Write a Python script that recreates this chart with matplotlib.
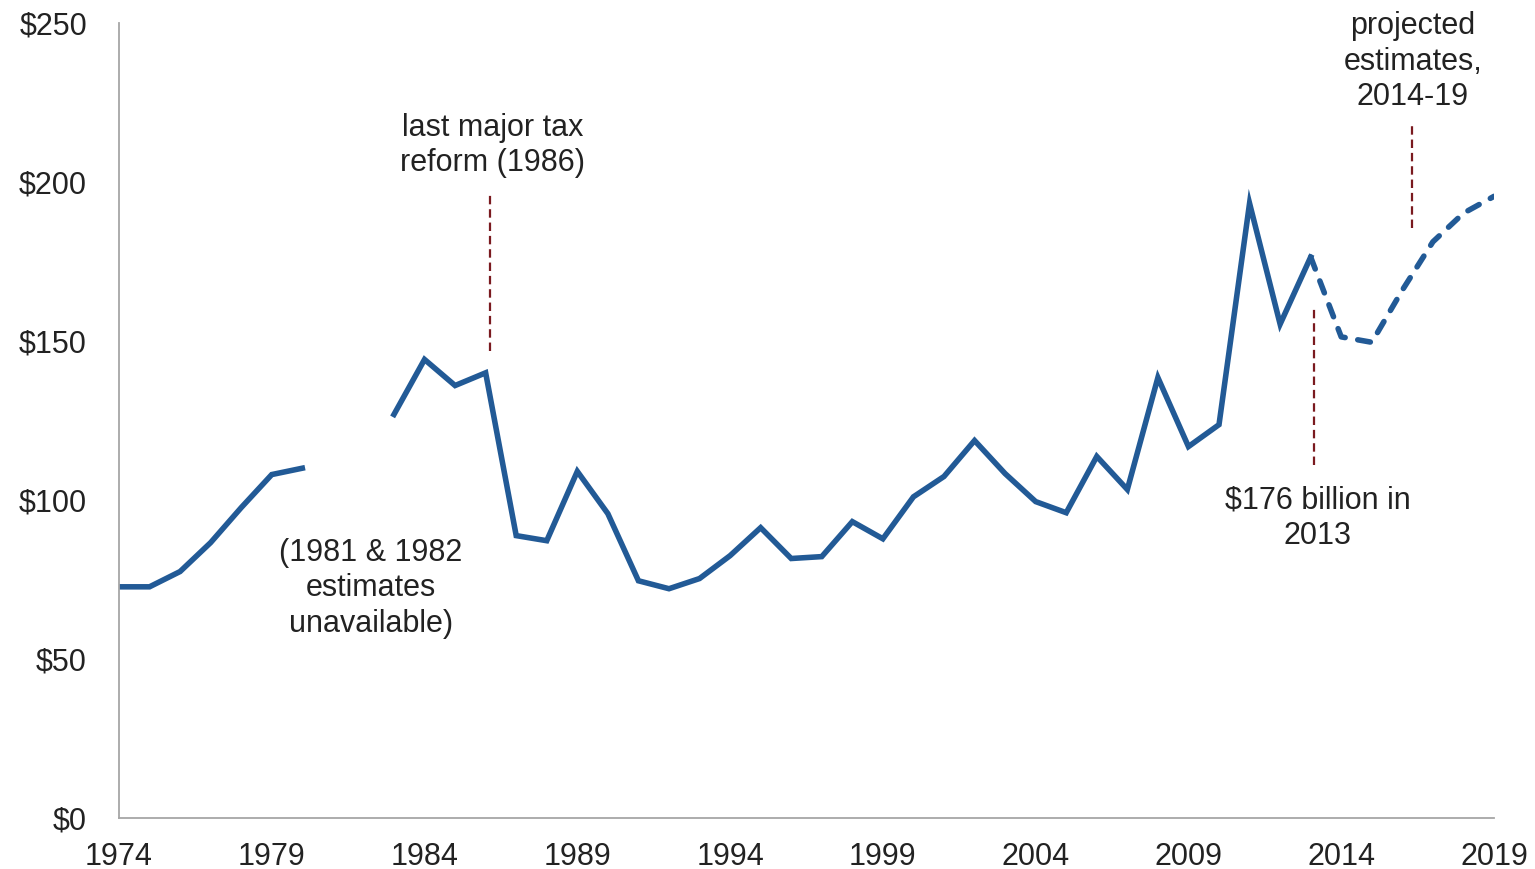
import numpy as np
import matplotlib
matplotlib.use("Agg")
import matplotlib.pyplot as plt

plt.rcParams['font.family'] = ['Liberation Sans', 'DejaVu Sans']

# estimates, billions of dollars (1981 & 1982 missing)
years = list(range(1974, 2014))
values = [72.7, 72.7, 77.5, 86.6, 97.6, 108, 110, np.nan, np.nan,
          126.9, 144.2, 136, 140, 88.8, 87.2, 109, 95.7, 74.6, 72.1, 75.3,
          82.5, 91.3, 81.6, 82.2, 93.2, 87.8, 101, 107.4, 118.7, 108.3,
          99.5, 96, 113.7, 103.3, 138.5, 116.8, 123.7, 193.3, 155.3, 176.4]

# projected, 2013 repeated to join the lines
proj_years = list(range(2013, 2020))
proj_values = [176.4, 151.3, 149.6, 166, 181.2, 190.2, 195.5]

xticks = list(range(1974, 2020, 5))
yticks = [0, 50, 100, 150, 200, 250]

blue = '#225a96'
red = '#7a1a1f'
txt = '#222222'

fig = plt.figure(figsize=(15.35, 8.69), dpi=100)
ax = fig.add_axes([0.0775, 0.0587, 0.8958, 0.9148])

ax.plot(years, values, color=blue, lw=4, solid_joinstyle='miter')
ax.plot(proj_years, proj_values, color=blue, lw=4, dashes=(2.3, 2.3),
        dash_capstyle='round')

# annotation guide lines
ax.plot([1986.15, 1986.15], [147, 196.5], color=red, lw=1.6, dashes=(3.8, 2.2))
ax.plot([2013.1, 2013.1], [111, 160], color=red, lw=1.6, dashes=(3.8, 2.2))
ax.plot([2016.3, 2016.3], [185.5, 217.5], color=red, lw=1.6, dashes=(3.8, 2.2))

fs = 22
ls = 1.24
ax.text(1986.24, 211.5, 'last major tax\nreform (1986)', ha='center', va='center',
        fontsize=fs, color=txt, linespacing=ls)
ax.text(2013.23, 94.3, '$176 billion in\n2013', ha='center', va='center',
        fontsize=fs, color=txt, linespacing=ls)
ax.text(2016.34, 237.8, 'projected\nestimates,\n2014-19', ha='center', va='center',
        fontsize=fs, color=txt, linespacing=ls)
ax.text(1982.25, 72.3, '(1981 & 1982\nestimates\nunavailable)', ha='center', va='center',
        fontsize=fs, color=txt, linespacing=ls)

ax.set_xlim(1974, 2019)
ax.set_ylim(0, 250)
ax.set_xticks(xticks)
ax.set_xticklabels([str(x) for x in xticks])
ax.set_yticks(yticks)
ax.set_yticklabels(['$%d' % y for y in yticks])
ax.tick_params(axis='both', length=0, labelsize=fs, labelcolor=txt)
ax.tick_params(axis='y', pad=23)
ax.tick_params(axis='x', pad=17)

for s in ['top', 'right']:
    ax.spines[s].set_visible(False)
for s in ['left', 'bottom']:
    ax.spines[s].set_color('#a6a6a6')
    ax.spines[s].set_linewidth(1.3)

fig.savefig('out.png', dpi=100)
